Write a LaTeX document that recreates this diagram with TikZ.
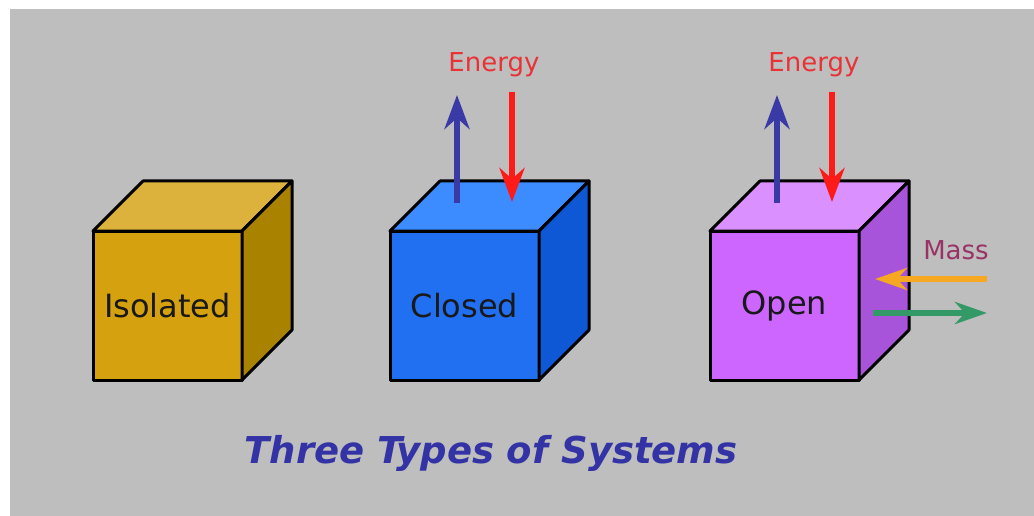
\documentclass[tikz,border=0pt]{standalone}
\usepackage{fontspec}
\setmainfont{DejaVu Sans}
\usetikzlibrary{arrows.meta}
\definecolor{bggray}{HTML}{BEBEBE}
\definecolor{isofront}{HTML}{D5A10E}
\definecolor{isotop}{HTML}{DDB23C}
\definecolor{isoside}{HTML}{A98300}
\definecolor{clfront}{HTML}{2270F2}
\definecolor{cltop}{HTML}{3D8CFF}
\definecolor{clside}{HTML}{0E58D6}
\definecolor{opfront}{HTML}{CC66FF}
\definecolor{optop}{HTML}{DA90FF}
\definecolor{opside}{HTML}{A854DA}
\definecolor{energyred}{HTML}{E83236}
\definecolor{arrred}{HTML}{FF1A1A}
\definecolor{arrblue}{HTML}{3A3AA6}
\definecolor{massrose}{HTML}{993366}
\definecolor{massorange}{HTML}{F7A823}
\definecolor{massgreen}{HTML}{339966}
\definecolor{titleblue}{HTML}{3333A6}

\begin{document}
\begin{tikzpicture}[x=1pt, y=-1pt,
  face/.style={draw=black, line width=3pt, line join=round},
  cube/.style={face, rectangle, minimum width=149pt, minimum height=149pt,
    inner sep=0pt, outer sep=0pt, font=\fontsize{32}{38}\selectfont, text=black!90},
  label/.style={font=\fontsize{26}{30}\selectfont, inner sep=0pt},
  flow/.style={-{Stealth[length=34pt, width=25pt, inset=11pt]}, line width=6pt},
  massflow/.style={-{Stealth[length=32pt, width=22pt, inset=10pt]}, line width=6pt},
]
  % Page and panel
  \fill[white] (0,0) rectangle (1034,516);
  \fill[bggray] (10,9) rectangle (1034,516);
  \useasboundingbox (0,0) rectangle (1034,516);

  % Cubes (front faces carry the names)
  \node[cube, fill=isofront] (iso) at (167.5,305.5) {Isolated};
  \node[cube, fill=clfront] (closed) at (464.5,305.5) {Closed};
  \node[cube, fill=opfront] (open) at (784.5,305.5) {Open};

  \draw[face, fill=isotop] (iso.north west) -- ++(50,-50) -- ++(149,0) -- (iso.north east) -- cycle;
  \draw[face, fill=isoside] (iso.north east) -- ++(50,-50) -- ++(0,149) -- (iso.south east) -- cycle;
  \draw[face, fill=cltop] (closed.north west) -- ++(50,-50) -- ++(149,0) -- (closed.north east) -- cycle;
  \draw[face, fill=clside] (closed.north east) -- ++(50,-50) -- ++(0,149) -- (closed.south east) -- cycle;
  \draw[face, fill=optop] (open.north west) -- ++(50,-50) -- ++(149,0) -- (open.north east) -- cycle;
  \draw[face, fill=opside] (open.north east) -- ++(50,-50) -- ++(0,149) -- (open.south east) -- cycle;

  % Labels
  \node[label, text=energyred, anchor=base] (en-closed) at (494,72) {Energy};
  \node[label, text=energyred, anchor=base] (en-open) at (814,72) {Energy};
  \node[label, text=massrose, anchor=base] (mass) at (956,259) {Mass};
  \node[font=\fontsize{37}{42}\selectfont\bfseries\itshape, text=titleblue, anchor=base] (title) at (491,463) {Three Types of Systems};

  % Energy arrows
  \coordinate (cl-out-s) at (457,203);
  \coordinate (cl-out-e) at (457,95);
  \coordinate (cl-in-s) at (512,92);
  \coordinate (cl-in-e) at (512,202);
  \coordinate (op-out-s) at (777,203);
  \coordinate (op-out-e) at (777,95);
  \coordinate (op-in-s) at (832,92);
  \coordinate (op-in-e) at (832,202);
  \draw[flow, arrblue] (cl-out-s) -- (cl-out-e);
  \draw[flow, arrred] (cl-in-s) -- (cl-in-e);
  \draw[flow, arrblue] (op-out-s) -- (op-out-e);
  \draw[flow, arrred] (op-in-s) -- (op-in-e);

  % Mass arrows
  \coordinate (m-in-s) at (987,279);
  \coordinate (m-in-e) at (875,279);
  \coordinate (m-out-s) at (873,313);
  \coordinate (m-out-e) at (987,313);
  \draw[massflow, massorange] (m-in-s) -- (m-in-e);
  \draw[massflow, massgreen] (m-out-s) -- (m-out-e);
\end{tikzpicture}
\end{document}
